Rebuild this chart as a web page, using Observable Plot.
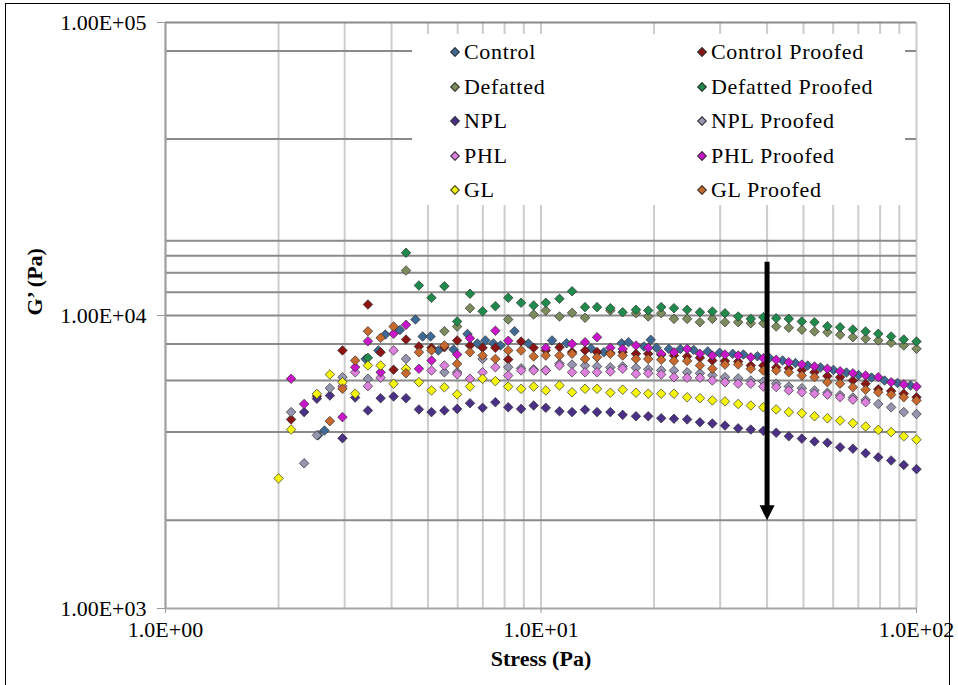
<!DOCTYPE html>
<html>
<head>
<meta charset="utf-8">
<script src="https://cdn.jsdelivr.net/npm/d3@7"></script>
<script src="https://cdn.jsdelivr.net/npm/@observablehq/plot@0.6"></script>
<style>
  html, body { margin: 0; padding: 0; background: #fff; }
  #figure { position: relative; width: 958px; height: 685px; overflow: hidden; font-family: "Liberation Serif", "Times New Roman", serif; }
  #frame { position: absolute; left: 5px; top: 3px; width: 945px; height: 700px; border: 1.5px solid #000; box-sizing: border-box; }
  #legend { position: absolute; left: 412px; top: 34px; width: 493px; height: 171px; background: #fff; }
  .item { position: absolute; font-size: 22px; line-height: 22px; letter-spacing: 0.7px; color: #000; white-space: nowrap; transform: translateY(-50%); }
  .key { position: absolute; width: 5px; height: 5px; transform: translate(-50%, -50%) rotate(45deg); border: 0.6px solid #333; }
</style>
</head>
<body>
<div id="figure"><div id="frame"></div></div>
<script>
// Applied stress (Pa) of the shared sweep
const stress = [2.00, 2.16, 2.34, 2.53, 2.74, 2.96, 3.20, 3.46, 3.74, 4.05, 4.37, 4.73, 5.11, 5.53, 5.98, 6.47, 6.99, 7.56, 8.18, 8.85, 9.56, 10.3, 11.2, 12.1, 13.1, 14.1, 15.3, 16.5, 17.9, 19.3, 20.9, 22.6, 24.5, 26.5, 28.6, 30.9, 33.5, 36.2, 39.1, 42.3, 45.7, 49.5, 53.5, 57.9, 62.6, 67.7, 73.2, 79.1, 85.6, 92.5, 100];

// Control was recorded at its own stress steps
const controlStress = [2.55, 2.65, 3.41, 3.69, 3.85, 4.21, 4.63, 4.84, 5.08, 5.33, 5.85, 6.37, 6.77, 7.11, 7.47, 7.80, 8.50, 9.26, 10.7, 11.7, 13.6, 14.7, 16.4, 17.1, 18.8, 19.6, 20.3, 21.9, 23.5, 25.5, 27.8, 29.9, 32.4, 34.6, 37.7, 40.6, 44.0, 47.6, 51.3, 55.5, 60.1, 65.1, 70.1, 75.9, 82.2, 89.0, 96.4];
const control = [3900, 4050, 7100, 7600, 8610, 8920, 9690, 8480, 8480, 7600, 7650, 8650, 8025, 8220, 8025, 7900, 8840, 8025, 8220, 8040, 7720, 7490, 8040, 8110, 7840, 8260, 7760, 7690, 7690, 7630, 7540, 7460, 7400, 7360, 7260, 7160, 7020, 6880, 6750, 6650, 6520, 6390, 6260, 6140, 6000, 5885, 5770];

// Storage modulus G' (Pa) for each dough, aligned with `stress` (null = no reading)
const controlProofed = [null, 4420, null, 5300, null, 7600, null, 10900, 7490, 6530, 8280, 7840, 7760, 7790, 8220, 7900, 7760, 7760, 7080, 8150, 7760, 7600, 7790, 7500, 7600, 7500, 7450, 7500, 7400, 7400, 7350, 7300, 7250, 7170, 7020, 6990, 6960, 6750, 6750, 6650, 6600, 6500, 6400, 6210, 6160, 6000, 5850, 5600, 5520, 5410, 5260];
const defatted = [null, null, null, null, null, null, null, null, null, null, 14240, null, null, 8840, 9170, 10590, null, null, 9690, null, 10080, 10400, 9920, 10210, 9820, null, 10400, null, 10180, 9920, 10180, 9740, 9740, 9490, 9740, 9490, 9490, 9410, 9410, 9170, 9080, 8940, 8820, 8770, 8590, 8430, 8330, 8220, 8070, 7900, 7700];
const defattedProofed = [null, null, null, null, null, null, null, 7170, null, null, 16370, 12660, 11490, 12590, 9540, 11860, 10340, 10760, 11490, 11050, 10820, 11050, 11400, 12100, 10680, 10680, 10590, 10260, 10460, 10400, 10680, 10590, 10460, 10260, 10320, 10180, 9920, 9740, 9870, 9790, 9740, 9540, 9490, 9190, 9120, 8960, 8820, 8660, 8480, 8280, 8150];
const npl = [null, null, 4680, 5200, 5330, 3810, 5250, 4740, 5220, 5290, 5220, 4780, 4680, 4740, 4800, 5020, 4840, 5060, 4860, 4800, 4930, 4840, 4710, 4680, 4770, 4680, 4680, 4580, 4530, 4530, 4460, 4440, 4420, 4320, 4280, 4210, 4120, 4080, 4040, 3980, 3870, 3800, 3715, 3680, 3550, 3510, 3390, 3280, 3200, 3090, 2990];
const nplProofed = [null, 4680, 3130, 3900, 5650, 6160, null, 6080, null, null, 7110, null, null, 6400, 6400, null, 7110, null, 6660, 6600, 6550, 6500, 6850, 6800, 6750, 6700, 6650, 6700, 6630, 6550, 6500, 6490, 6400, 6350, 6250, 6160, 6100, 6000, 5950, 5850, 5720, 5650, 5550, 5450, 5350, 5250, 5150, 4990, 4860, 4680, 4610];
const phl = [null, null, null, null, null, 5740, 6400, 5740, 6130, 7600, null, null, 6490, 6750, 6300, 6080, 6400, 6660, 6240, 6490, 6490, 6490, 6750, 6400, 6400, 6400, 6440, 6580, 6320, 6350, 6290, 6160, 6130, 6130, 6000, 5920, 5850, 5850, 5720, 5700, 5550, 5470, 5410, 5370, 5260, 5160, 5060, null, null, null, null];
const phlProofed = [null, 6080, 4990, null, null, 4500, 6660, 8170, 6400, 8660, 9290, 6580, 7020, null, 7360, 8360, null, 8870, 8200, null, null, 7760, null, 8000, 8110, 8430, 7760, 7690, 7900, 7760, 7400, 7490, 7690, 7400, 7300, 7360, 7300, 7200, 7150, 7060, 6930, 6800, 6700, 6580, 6450, 6350, 6240, 6160, 5920, 5820, 5720];
const gl = [2780, 4080, null, 5400, 6290, 5920, 5410, 6750, 6750, 5850, 6580, 5920, 5550, 5690, 5380, 5720, 6080, 5970, 5720, 5620, 5720, 5550, 5770, 5470, 5620, 5620, 5450, 5580, 5450, 5410, 5410, 5410, 5260, 5220, 5130, 5090, 4990, 4930, 4860, 4780, 4680, 4640, 4530, 4460, 4380, 4290, 4180, 4070, 4000, 3870, 3770];
const glProofed = [null, null, null, null, 4360, 5620, 7020, 8840, 8390, 9170, 6350, 7490, 7600, 7900, 6840, 7490, 7300, 7110, 7600, 7600, 7250, 7300, 7300, 7400, 7110, 7200, 7400, 7300, 7110, 7100, 7060, 7000, 7000, 6750, 6580, 6800, 6800, 6580, 6490, 6490, 6400, 6240, 6160, 5920, 5850, 5690, 5580, 5470, 5370, 5260, 5130];

// Series names and marker colours, in drawing order
const seriesNames = ["Control", "Control Proofed", "Defatted", "Defatted Proofed", "NPL", "NPL Proofed", "PHL", "PHL Proofed", "GL", "GL Proofed"];
const seriesColors = ["#3f6a95", "#8b1414", "#7d8c5c", "#1f8a4c", "#4b3087", "#9595b0", "#de80de", "#c916c9", "#f4f40c", "#c8692e"];
const seriesX = [controlStress, stress, stress, stress, stress, stress, stress, stress, stress, stress];
const seriesY = [control, controlProofed, defatted, defattedProofed, npl, nplProofed, phl, phlProofed, gl, glProofed];

// Axis ticks and grid
const xTicks = [1, 10, 100];
const yTicks = [1000, 10000, 100000];
const xGrid = [1, 2, 3, 4, 5, 6, 7, 8, 9, 10, 20, 30, 40, 50, 60, 70, 80, 90, 100];
const yGrid = [2000, 4000, 6000, 8000, 10000, 12000, 14000, 16000, 18000, 40000, 80000, 100000];

// Downward trend arrow
const arrowStress = [40];
const arrowFrom = [15200];
const arrowShaftEnd = [2100];
const arrowTip = [2000];

const sci = (digits) => (v) => {
  const e = Math.round(Math.log10(v));
  return (v / 10 ** e).toFixed(digits) + "E" + (e < 0 ? "-" : "+") + String(Math.abs(e)).padStart(2, "0");
};

const arrowRows = arrowStress.map((s, i) => ({stress: s, from: arrowFrom[i], shaftEnd: arrowShaftEnd[i], tip: arrowTip[i]}));

// Filled head whose tip sits on the anchor point
const headDown = {
  draw(context, size) {
    const s = Math.sqrt(size);
    context.moveTo(0, 0);
    context.lineTo(-s / 2, -s);
    context.lineTo(s / 2, -s);
    context.closePath();
  }
};

const dotMarks = seriesNames.map((name, k) => {
  const rows = seriesX[k].map((x, i) => ({stress: x, g: seriesY[k][i]})).filter(d => d.g != null);
  return Plot.dot(rows, {x: "stress", y: "g", symbol: "diamond2", r: 4.3, fill: seriesColors[k], stroke: "#2b2b2b", strokeWidth: 0.75, strokeOpacity: 0.9, title: () => name});
});

const chart = Plot.plot({
  width: 958,
  height: 685,
  marginLeft: 165,
  marginRight: 42,
  marginTop: 22,
  marginBottom: 77,
  style: {fontFamily: "'Liberation Serif', 'Times New Roman', serif", fontSize: "22px", color: "#000", background: "transparent", overflow: "visible"},
  x: {type: "log", domain: [1, 100]},
  y: {type: "log", domain: [1000, 100000]},
  marks: [
    Plot.ruleX(xGrid, {stroke: "#cdcdcd", strokeWidth: 2}),
    Plot.ruleY(yGrid, {stroke: "#8a8a8a", strokeWidth: 2}),
    Plot.ruleX([1], {stroke: "#a0a0a0", strokeWidth: 2}),
    Plot.ruleY([1000], {stroke: "#a8a8a8", strokeWidth: 2}),
    Plot.axisX({ticks: xTicks, tickFormat: sci(1), tickSize: 5, tickPadding: 8, stroke: "#999", label: null}),
    Plot.axisY({ticks: yTicks, tickFormat: sci(2), tickSize: 8, tickPadding: 11, stroke: "#999", label: null}),
    ...dotMarks,
    Plot.ruleX(arrowRows, {x: "stress", y1: "from", y2: "shaftEnd", stroke: "#000", strokeWidth: 5}),
    Plot.dot(arrowRows, {x: "stress", y: "tip", symbol: headDown, r: 8.5, fill: "#000", stroke: "none"}),
    Plot.text(["Stress (Pa)"], {frameAnchor: "bottom", dy: 57, fontWeight: "bold", fontSize: 22}),
    Plot.text(["G’ (Pa)"], {frameAnchor: "left", dx: -131, rotate: -90, fontWeight: "bold", fontSize: 22})
  ]
});
chart.style.position = "absolute";
chart.style.left = "0px";
chart.style.top = "0px";

const figure = document.getElementById("figure");
figure.insertBefore(chart, figure.firstChild);

// Legend: two columns, five rows, on a white panel inside the plot
const legend = document.createElement("div");
legend.id = "legend";
const colKey = [43, 290];
const colText = [52, 299];
const rowY = [18, 52.5, 87, 121.5, 156];
seriesNames.forEach((name, k) => {
  const col = k % 2, row = Math.floor(k / 2);
  const key = document.createElement("div");
  key.className = "key";
  key.style.left = colKey[col] + "px";
  key.style.top = rowY[row] + "px";
  key.style.background = seriesColors[k];
  legend.appendChild(key);
  const label = document.createElement("div");
  label.className = "item";
  label.style.left = colText[col] + "px";
  label.style.top = rowY[row] + "px";
  label.textContent = name;
  legend.appendChild(label);
});
figure.appendChild(legend);
</script>
</body>
</html>
